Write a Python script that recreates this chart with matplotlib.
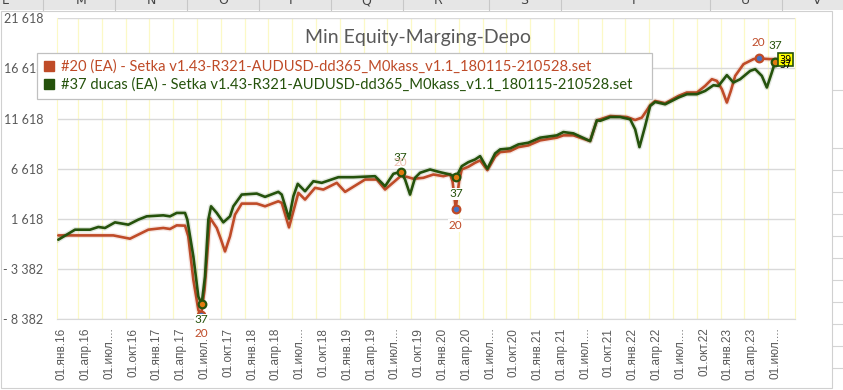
import numpy as np
import matplotlib
matplotlib.use("Agg")
from matplotlib import pyplot as plt
from matplotlib.lines import Line2D
from matplotlib.patches import Rectangle

# x = months since 01.янв.16
x20 = [-0.43, 6.51, 8.61, 10.92, 12.81, 13.66, 14.50, 15.55, 15.96, 16.60, 17.23, 17.57, 18.01,
       18.70, 19.55, 20.09, 20.59, 21.22, 21.85, 22.70, 24.59, 25.64, 27.31, 27.74, 28.66, 29.84,
       30.68, 31.94, 32.99, 34.68, 35.73, 38.25, 39.72, 40.77, 42.75, 43.51, 44.35, 45.60, 46.86,
       48.12, 48.97, 49.28, 49.68, 50.10, 50.44, 51.27, 52.12, 52.75, 53.67, 54.64, 55.27, 56.53,
       57.58, 58.84, 60.32, 62.42, 63.25, 64.51, 66.62, 67.47, 67.89, 69.15, 71.26, 72.30, 73.14,
       74.19, 74.82, 76.08, 77.76, 78.81, 80.08, 81.12, 81.97, 82.60, 83.23, 83.86, 84.36, 84.91,
       85.96, 87.22, 87.85, 89.33, 90.84]
y20 = [-20, -20, -350, 550, 720, 620, 980, 950, -120, -4450, -7450, -7950, -5430,
       1720, 720, -450, -1620, -120, 2050, 3150, 3150, 2880, 3380, 3220, 780, 4220,
       3550, 4720, 4550, 5220, 4320, 5550, 5550, 4550, 5900, 5820, 5620, 5720, 6050,
       5880, 6050, 5350, 2650, 5350, 6550, 6820, 7220, 7450, 6480, 7820, 8280, 8380,
       8780, 8950, 9450, 9720, 9950, 9950, 9380, 11450, 11550, 11880, 11780, 11480, 11720,
       12950, 13380, 13150, 13880, 14220, 14220, 14880, 15550, 15380, 14550, 13220, 14380, 15880,
       17050, 17550, 17620, 17550, 17550]

x37 = [-0.43, 1.68, 3.57, 4.62, 5.46, 6.72, 8.40, 9.66, 10.72, 12.81, 13.66, 14.50, 15.55, 15.84,
       16.60, 17.23, 17.65, 18.07, 18.49, 18.83, 19.55, 20.38, 21.22, 21.64, 22.70, 24.59, 25.64,
       27.31, 27.74, 28.66, 29.21, 29.76, 30.68, 31.73, 32.79, 34.88, 36.77, 39.51, 40.77, 41.82,
       42.75, 43.29, 43.92, 44.55, 45.18, 46.44, 47.70, 48.97, 49.72, 50.44, 51.27, 52.12, 52.75,
       53.67, 54.64, 55.27, 56.53, 57.58, 58.84, 60.32, 62.42, 63.25, 64.51, 66.62, 67.47, 67.89,
       69.15, 70.41, 71.67, 72.30, 72.84, 73.56, 74.19, 74.82, 76.08, 77.76, 78.81, 80.08, 81.12,
       82.17, 82.80, 83.86, 84.69, 85.54, 86.80, 87.43, 88.27, 88.90, 89.53, 89.95, 90.84]
y37 = [-450, 550, 550, 820, 720, 1280, 1050, 1550, 1880, 1980, 1880, 2220, 2220, 1550,
       -2120, -6120, -6850, -4120, 1550, 2880, 2220, 1280, 1880, 2880, 4050, 4150, 3820,
       4320, 4050, 1650, 3880, 5120, 4380, 5380, 5220, 5780, 5780, 5880, 4880, 6120,
       6320, 5550, 4050, 5720, 6220, 6550, 6280, 6050, 5780, 6880, 7280, 7550, 7880,
       6620, 8150, 8550, 8650, 9050, 9220, 9720, 9950, 10280, 10150, 9380, 11450, 11400,
       11780, 11780, 11550, 10550, 8780, 10880, 12880, 13280, 13050, 13720, 14050, 14050, 14380,
       14950, 14880, 15950, 15220, 15550, 16380, 16550, 15880, 14720, 16220, 17280, 17350]

# points that carry a marker / data label
mark20 = [11, 42, 80]
mark37 = [16, 40, 48, 89]

name20 = "#20 (EA) - Setka v1.43-R321-AUDUSD-dd365_M0kass_v1.1_180115-210528.set"
name37 = "#37 ducas (EA) - Setka v1.43-R321-AUDUSD-dd365_M0kass_v1.1_180115-210528.set"

xticks = list(range(0, 91, 3))
xlabels = ["01.янв.16", "01.апр.16", "01.июл....", "01.окт.16",
           "01.янв.17", "01.апр.17", "01.июл....", "01.окт.17",
           "01.янв.18", "01.апр.18", "01.июл....", "01.окт.18",
           "01.янв.19", "01.апр.19", "01.июл....", "01.окт.19",
           "01.янв.20", "01.апр.20", "01.июл....", "01.окт.20",
           "01.янв.21", "01.апр.21", "01.июл....", "01.окт.21",
           "01.янв.22", "01.апр.22", "01.июл....", "01.окт.22",
           "01.янв.23", "01.апр.23", "01.июл...."]
yticks = [-8382, -3382, 1618, 6618, 11618, 16618, 21618]
ylabels = ["- 8 382", "- 3 382", "1 618", "6 618", "11 618", "16 618", "21 618"]

RED = "#bf4b28"
GREEN = "#25520c"
GRAY = "#595959"
YEL = "#fcf9c6"
FONT = ["Lato", "DejaVu Sans"]

W, H = 843, 390
fig = plt.figure(figsize=(W / 100, H / 100), dpi=100)

def fx(p):
    return p / W

def fy(p):
    return 1 - p / H

# spreadsheet behind the chart
fig.add_artist(Rectangle((0, fy(10)), 1, 10 / H, transform=fig.transFigure,
                         fc="#e6e6e6", ec="none", zorder=-2))
for sx in [43, 114.5, 186.6, 258.6, 330.6, 402.7, 488.7, 560.8, 709.7, 782.3]:
    fig.add_artist(Line2D([fx(sx), fx(sx)], [fy(0), fy(10)], color="#c8c8c8", lw=0.8, zorder=-1))
for lx, letter in zip([5, 81, 151, 223, 293, 366, 438, 524, 634, 745, 817],
                      list("LMNOPQRSTUV")):
    fig.text(fx(lx), fy(1), letter, ha="center", va="center", fontsize=9, color="#444444")
for ry in [90, 148, 170, 192, 214, 236, 258, 280, 302, 324, 346, 368]:
    fig.add_artist(Line2D([fx(832), 1], [fy(ry), fy(ry)], color="#d4d4d4", lw=0.8, zorder=-1))
fig.add_artist(Rectangle((fx(0.5), fy(388)), fx(831.5), (388 - 11) / H,
                         transform=fig.transFigure, fc="white", ec="#d0d0d0", lw=0.8, zorder=-1))

ax = fig.add_axes([fx(57), fy(319.3), fx(738), 301 / H])
ax.set_zorder(1)
ax.set_facecolor("none")

for xs, ys, c, z in [(x20, y20, RED, 3), (x37, y37, GREEN, 4)]:
    ax.plot(xs, ys, color=c, lw=3.8, alpha=0.13, solid_joinstyle="round", zorder=z)
    ax.plot(xs, ys, color=c, lw=1.9, solid_joinstyle="round", solid_capstyle="round", zorder=z)

x20a, y20a, x37a, y37a = map(np.array, (x20, y20, x37, y37))
ax.plot(x20a[mark20], y20a[mark20], "o", ms=5.5, mfc="#4472c4", mec=RED, mew=1.6, zorder=6)
ax.plot(x37a[mark37], y37a[mark37], "o", ms=5.5, mfc="#e07b10", mec=GREEN, mew=1.6, zorder=6)

lab = dict(ha="center", va="center", fontsize=8.5, family=FONT, textcoords="offset points")
wbox = dict(fc="white", ec="none", pad=0.6)
ax.annotate("37", (x37[16], y37[16]), xytext=(0, -11.5), color=GREEN, bbox=wbox, zorder=7, **lab)
ax.annotate("20", (x20[11], y20[11]), xytext=(0, -13), color=RED, bbox=wbox, zorder=7, **lab)
ax.annotate("37", (x37[40], y37[40]), xytext=(0, 10.5), color=GREEN, zorder=7, **lab)
ax.annotate("20", (x20[34], y20[34]), xytext=(0, 10), color="#e8b0a0", alpha=0.8, zorder=7, **lab)
ax.annotate("37", (x37[48], y37[48]), xytext=(0, -12), color=GREEN, bbox=wbox, zorder=7, **lab)
ax.annotate("20", (x20[42], y20[42]), xytext=(0, -12), color=RED, bbox=wbox, zorder=7, **lab)
ax.annotate("20", (x20[80], y20[80]), xytext=(0, 11.5), color=RED, zorder=7, **lab)
ax.annotate("37", (x37[89], y37[89]), xytext=(0, 11.5), color=GREEN, zorder=7, **lab)
ax.annotate("39", (x37[-1], y37[-1]), xytext=(2.5, 1), color="black", ha="center", va="center",
            fontsize=7, textcoords="offset points", zorder=8,
            bbox=dict(fc="#ffff00", ec=GREEN, lw=1.2, pad=1.2))
ax.annotate("37", (x37[-1], y37[-1]), xytext=(2.5, -2.5), color="black", ha="center", va="center",
            fontsize=7, textcoords="offset points", zorder=9)

ax.set_xlim(-0.59, 92.45)
ax.set_ylim(-8382, 21618)
ax.set_xticks(xticks)
ax.set_xticklabels(xlabels, rotation=90, fontsize=8.5, color=GRAY, family=["Liberation Sans", "DejaVu Sans"])
ax.set_xticks(np.arange(2.06, 92, 3), minor=True)
ax.set_yticks(yticks)
ax.set_yticklabels(ylabels, fontsize=9, color=GRAY, family=FONT)
ax.tick_params(axis="both", which="both", length=0)
ax.tick_params(axis="x", pad=6)
ax.tick_params(axis="y", pad=10)
ax.grid(axis="y", which="major", color="#d9d9d9", lw=1)
ax.grid(axis="x", which="minor", color=YEL, lw=0.9)
ax.set_axisbelow(True)
ax.spines["top"].set_visible(False)
ax.spines["left"].set_color(YEL)
ax.spines["right"].set_color(YEL)
ax.spines["bottom"].set_color("#d9d9d9")

fig.text(fx(418), fy(37), "Min Equity-Marging-Depo", ha="center", va="center",
         fontsize=14, color=GRAY, family=FONT)

handles = [Line2D([], [], marker="s", ls="none", color=RED, ms=6.5),
           Line2D([], [], marker="s", ls="none", color=GREEN, ms=6.5)]
leg = ax.legend(handles, [name20, name37], loc="upper left", mode="expand",
                bbox_to_anchor=(fx(37), fy(105), fx(615), 52 / H), bbox_transform=fig.transFigure,
                frameon=True, fancybox=False, framealpha=1, edgecolor="#c0c0c0",
                handlelength=0.7, handletextpad=0.5, labelspacing=0.25, borderpad=0.45,
                borderaxespad=0, prop={"family": FONT, "size": 10.6})
leg.get_frame().set_linewidth(0.9)
leg.set_zorder(10)
for t, c in zip(leg.get_texts(), [RED, GREEN]):
    t.set_color(c)

fig.savefig("out.png", dpi=100)
